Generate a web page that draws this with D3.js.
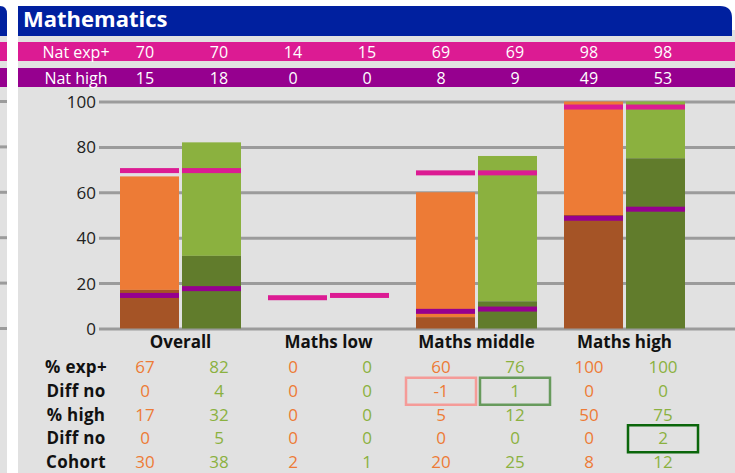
<html>
<script src="https://d3js.org/d3.v7.min.js"></script>
<style>
    body { margin: 0; background: #fff; }
    text { font-family: "Open Sans", sans-serif; }
</style>
<body onload="init()">
<svg width="735" height="473"></svg>
<script>
    // chart data
    const groups = ['Overall', 'Maths low', 'Maths middle', 'Maths high'];
    const series = ['this', 'next'];
    const natExp = [70, 70, 14, 15, 69, 69, 98, 98];
    const natHigh = [15, 18, 0, 0, 8, 9, 49, 53];
    const pctExp = [67, 82, 0, 0, 60, 76, 100, 100];
    const diffExp = [0, 4, 0, 0, -1, 1, 0, 0];
    const pctHigh = [17, 32, 0, 0, 5, 12, 50, 75];
    const diffHigh = [0, 5, 0, 0, 0, 0, 0, 2];
    const cohort = [30, 38, 2, 1, 20, 25, 8, 12];
    const yTicks = [0, 20, 40, 60, 80, 100];
    // flagged cells: [row, column, kind]
    const flagged = [[1, 4, 'low'], [1, 5, 'up'], [3, 7, 'upStrong']];

    function init() {
        const svg = d3.select('svg');
        const grey = '#e1e1e1', blue = '#00209f', pink = '#dc1b93', purple = '#96008f';
        const light = ['#ed7b36', '#8bb13f'];
        const dark = ['#a55426', '#617c2c'];
        const flagColour = { low: '#f59b98', up: '#679a5c', upStrong: '#0b660b' };

        // left neighbour panel sliver
        svg.append('rect').attr('x', 0).attr('y', 36).attr('width', 7).attr('height', 437).attr('fill', grey);
        svg.append('path').attr('d', 'M0,6 H0 Q7,6 7,14 V36 H0 Z').attr('fill', blue);
        svg.append('rect').attr('x', 0).attr('y', 42).attr('width', 7).attr('height', 19).attr('fill', pink);
        svg.append('rect').attr('x', 0).attr('y', 68).attr('width', 7).attr('height', 19).attr('fill', purple);

        // main panel
        svg.append('rect').attr('x', 18).attr('y', 30).attr('width', 717).attr('height', 443).attr('fill', grey);
        svg.append('path').attr('d', 'M18,6 H720 Q732,6 732,18 V36 H18 Z').attr('fill', blue);
        svg.append('text').attr('x', 23).attr('y', 27).attr('fill', '#fff')
            .attr('font-size', 22).attr('font-weight', 700).text('Mathematics');
        svg.append('rect').attr('x', 18).attr('y', 42).attr('width', 717).attr('height', 19).attr('fill', pink);
        svg.append('rect').attr('x', 18).attr('y', 68).attr('width', 717).attr('height', 19).attr('fill', purple);

        // scales
        const y = d3.scaleLinear().domain([0, 100]).range([328.5, 101.5]);
        const x0 = d3.scaleBand().domain(groups).range([106.5, 698.5]);
        const x1 = d3.scaleBand().domain(series).range([13.5, 134.5]).paddingInner(0.0484);
        const col = d3.scaleBand().domain(d3.range(8)).range([108, 700]);
        const labelX = 76;
        const bx = i => x0(groups[Math.floor(i / 2)]) + x1(series[i % 2]);

        // gridlines + tick labels
        const axis = svg.append('g').attr('transform', 'translate(99,0)')
            .call(d3.axisLeft(y).tickValues(yTicks).tickSize(-640).tickPadding(3));
        axis.select('.domain').remove();
        axis.selectAll('line').attr('stroke', '#9b9b9b').attr('stroke-width', 3);
        axis.selectAll('text').attr('font-size', 17).attr('fill', '#222')
            .attr('font-family', '"Open Sans", sans-serif').attr('dy', '0.35em');
        svg.append('g').selectAll('line').data(yTicks).join('line')
            .attr('x1', 0).attr('x2', 7).attr('y1', d => y(d)).attr('y2', d => y(d))
            .attr('stroke', '#9b9b9b').attr('stroke-width', 3);

        // bars
        const idx = d3.range(8);
        const bars = svg.append('g');
        bars.selectAll('rect.exp').data(idx.filter(i => pctExp[i] > 0)).join('rect')
            .attr('class', 'exp')
            .attr('x', i => bx(i)).attr('width', x1.bandwidth())
            .attr('y', i => y(pctExp[i])).attr('height', i => y(pctHigh[i]) - y(pctExp[i]))
            .attr('fill', i => light[i % 2]);
        bars.selectAll('rect.high').data(idx.filter(i => pctHigh[i] > 0)).join('rect')
            .attr('class', 'high')
            .attr('x', i => bx(i)).attr('width', x1.bandwidth())
            .attr('y', i => y(pctHigh[i])).attr('height', i => y(0) - y(pctHigh[i]))
            .attr('fill', i => dark[i % 2]);
        // national markers
        bars.selectAll('rect.nexp').data(idx.filter(i => natExp[i] > 0)).join('rect')
            .attr('class', 'nexp')
            .attr('x', i => bx(i)).attr('width', x1.bandwidth())
            .attr('y', i => y(natExp[i]) - 1.5).attr('height', 5).attr('fill', pink);
        bars.selectAll('rect.nhigh').data(idx.filter(i => natHigh[i] > 0)).join('rect')
            .attr('class', 'nhigh')
            .attr('x', i => bx(i)).attr('width', x1.bandwidth())
            .attr('y', i => y(natHigh[i]) - 1.5).attr('height', 5).attr('fill', purple);

        // category labels
        svg.append('g').selectAll('text').data(groups).join('text')
            .attr('x', d => x0(d) + x0.bandwidth() / 2).attr('y', 348)
            .attr('text-anchor', 'middle').attr('font-size', 17).attr('font-weight', 700)
            .attr('fill', '#111').text(d => d);

        // top national rows
        const topRows = [['Nat exp+', natExp, 57.5], ['Nat high', natHigh, 83.5]];
        topRows.forEach(([label, vals, yy]) => {
            const g = svg.append('g').attr('fill', '#fff').attr('font-size', 16).attr('text-anchor', 'middle');
            g.append('text').attr('x', labelX).attr('y', yy).text(label);
            g.selectAll('text.v').data(vals).join('text').attr('class', 'v')
                .attr('x', (d, i) => col(i) + col.bandwidth() / 2).attr('y', yy).text(d => d);
        });

        // bottom table
        const rows = [['% exp+', pctExp], ['Diff no', diffExp], ['% high', pctHigh], ['Diff no', diffHigh], ['Cohort', cohort]];
        const rowY = r => 373 + r * 23.75;
        flagged.forEach(([r, c, kind]) => {
            svg.append('rect')
                .attr('x', col(c) + col.bandwidth() / 2 - 35).attr('y', rowY(r) - 19)
                .attr('width', 70).attr('height', 27)
                .attr('fill', 'none').attr('stroke', flagColour[kind]).attr('stroke-width', 2.5);
        });
        rows.forEach(([label, vals], r) => {
            const g = svg.append('g').attr('text-anchor', 'middle').attr('font-size', 17);
            g.append('text').attr('x', labelX).attr('y', rowY(r)).attr('font-weight', 700)
                .attr('fill', '#111').attr('letter-spacing', 0.3).text(label);
            g.selectAll('text.v').data(vals).join('text').attr('class', 'v')
                .attr('x', (d, i) => col(i) + col.bandwidth() / 2).attr('y', rowY(r))
                .attr('fill', (d, i) => light[i % 2]).text(d => d);
        });
    }
</script>
</body>
</html>
